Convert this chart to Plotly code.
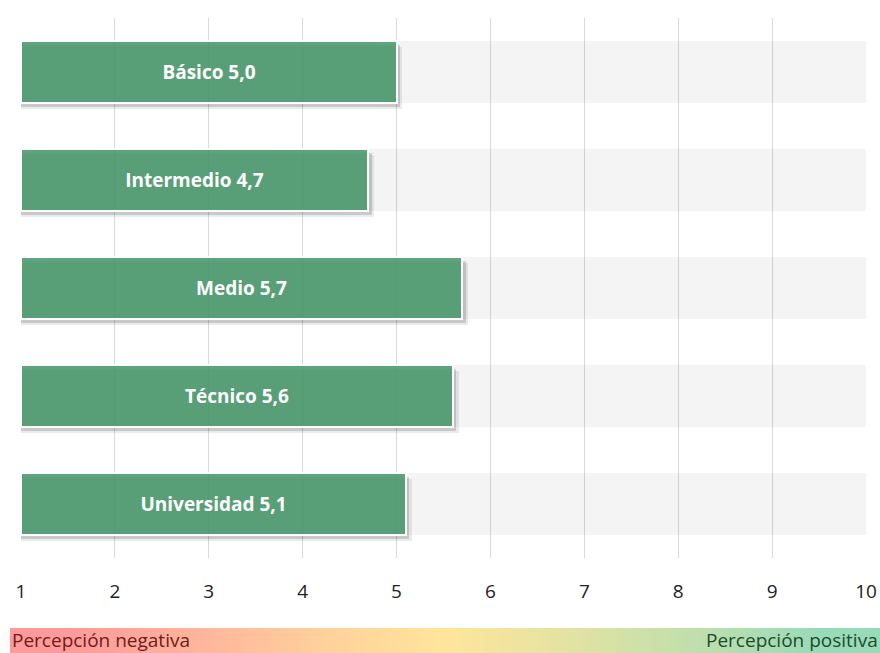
import plotly.graph_objects as go

# Datos
niveles = ["Básico", "Intermedio", "Medio", "Técnico", "Universidad"]
promedios = [5.0, 4.7, 5.7, 5.6, 5.1]
escala = [1, 2, 3, 4, 5, 6, 7, 8, 9, 10]
gradiente = ["#ff9a9a", "#ffb49b", "#ffd09b", "#ffe59b", "#e2e3a2", "#c0dfac", "#98dbb8"]

BASE = escala[0]
TOPE = escala[-1]
ANCHO = 0.575

W, H = 880, 653

etiquetas = [f"{n} {v:.1f}".replace(".", ",") for n, v in zip(niveles, promedios)]
largos = [v - BASE for v in promedios]

fig = go.Figure()

# franjas grises de fondo
fig.add_trace(go.Bar(
    y=niveles, x=[TOPE - BASE] * len(niveles), base=BASE, orientation="h",
    width=ANCHO, marker=dict(color="rgba(0,0,0,0.045)", line=dict(width=0)),
    hoverinfo="skip", showlegend=False,
))

# sombra de las barras
for dx, dy, alfa in [(0.06, 0.055, 0.08), (0.035, 0.035, 0.14)]:
    fig.add_trace(go.Bar(
        y=niveles, x=[l + dx for l in largos], base=BASE, orientation="h",
        width=ANCHO, offset=-ANCHO / 2 + dy,
        marker=dict(color=f"rgba(0,0,0,{alfa})", line=dict(width=0)),
        hoverinfo="skip", showlegend=False,
    ))

# barras principales
fig.add_trace(go.Bar(
    y=niveles, x=largos, base=BASE, orientation="h", width=ANCHO,
    marker=dict(color="rgba(73,154,108,0.88)", line=dict(color="white", width=2)),
    text=etiquetas, textposition="inside", insidetextanchor="middle",
    textfont=dict(family="Open Sans", size=19, color="white", weight="bold"),
    showlegend=False,
))

# barra de gradiente inferior
fig.add_trace(go.Heatmap(
    z=[list(range(len(gradiente)))],
    colorscale=[[i / (len(gradiente) - 1), c] for i, c in enumerate(gradiente)],
    zsmooth="best", showscale=False, hoverinfo="skip",
    xaxis="x2", yaxis="y2",
))

fig.add_annotation(
    text="Percepción negativa", xref="paper", yref="paper", x=0, y=0,
    xanchor="left", yanchor="bottom", yshift=-2, showarrow=False,
    font=dict(family="Open Sans", size=19, color="#6e1c1c"),
)
fig.add_annotation(
    text="Percepción positiva", xref="paper", yref="paper", x=1, y=0,
    xanchor="right", yanchor="bottom", yshift=-2, showarrow=False,
    font=dict(family="Open Sans", size=19, color="#1f4a2a"),
)

fig.update_layout(
    width=W, height=H,
    margin=dict(l=10, r=0, t=0, b=0, autoexpand=False),
    paper_bgcolor="white", plot_bgcolor="white",
    barmode="overlay", bargap=0,
    xaxis=dict(
        domain=[11 / 870, 856 / 870], range=[BASE, TOPE],
        tickvals=escala, showgrid=True, gridcolor="#d9d9d9", gridwidth=1,
        zeroline=False, showline=False, ticks="", ticklabelstandoff=20,
        tickfont=dict(family="Open Sans", size=19, color="#222"),
    ),
    yaxis=dict(
        domain=[1 - 558 / H, 1 - 18 / H], range=[4.5, -0.5],
        categoryorder="array", categoryarray=niveles,
        showticklabels=False, showgrid=False, zeroline=False, showline=False,
    ),
    xaxis2=dict(domain=[0, 1], anchor="y2", visible=False),
    yaxis2=dict(domain=[0, 25 / H], anchor="x2", visible=False),
)

# quitar el margen por defecto de la página para que la figura ocupe la ventana
fig.write_html(
    "out.html",
    config={"displayModeBar": False},
    post_script="document.body.style.margin='0';document.body.style.overflow='hidden';",
)
